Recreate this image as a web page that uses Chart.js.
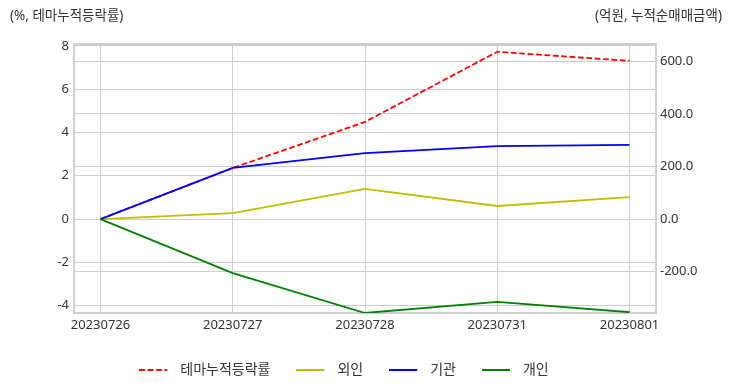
<!DOCTYPE html>
<html>
<head>
<meta charset="utf-8">
<script src="https://cdn.jsdelivr.net/npm/chart.js@4.4.0/dist/chart.umd.min.js"></script>
<style>
  html, body { margin: 0; padding: 0; background: #fff; }
  #wrap { width: 732px; height: 392px; }
</style>
</head>
<body>
<div id="wrap"><canvas id="myChart" width="732" height="392"></canvas></div>
<script>
var dates = ["20230726", "20230727", "20230728", "20230731", "20230801"];
var themeRate = [0, 2.36, 4.49, 7.73, 7.31];     // 테마누적등락률 (%)
var foreign = [0, 23, 115, 50, 84];             // 외인 (억원)
var institution = [0, 195, 251, 278, 282];      // 기관 (억원)
var individual = [0, -205, -357, -315, -354];   // 개인 (억원)
var leftTicks = [-4, -2, 0, 2, 4, 6, 8];
var rightTicks = [-200, 0, 200, 400, 600];

var textColor = "#333333";
var gridColor = "#cccccc";

// small legend line icon: 28px line then a gap
function lineIcon(color, dash) {
  var c = document.createElement("canvas");
  c.width = 34;
  c.height = 4;
  var g = c.getContext("2d");
  g.strokeStyle = color;
  g.lineWidth = 2;
  g.setLineDash(dash);
  g.beginPath();
  g.moveTo(0, 2);
  g.lineTo(28, 2);
  g.stroke();
  return c;
}

function toPoints(arr) {
  return arr.map(function (v, i) { return { x: i, y: v }; });
}

var seriesDefs = [
  { label: "테마누적등락률", data: themeRate, color: "#ff0000", dash: [5.8, 2.6], axis: "y", order: 4 },
  { label: "외인", data: foreign, color: "#bfbf00", dash: [], axis: "y1", order: 3 },
  { label: "기관", data: institution, color: "#0000ff", dash: [], axis: "y1", order: 2 },
  { label: "개인", data: individual, color: "#008000", dash: [], axis: "y1", order: 1 }
];

var frame = {
  id: "frame",
  afterLayout: function (chart) {
    // legend in the reference is centred a bit left of the page centre
    chart.legend.right -= 44;
  },
  beforeDatasetsDraw: function (chart) {
    var a = chart.chartArea, ctx = chart.ctx;
    ctx.save();
    ctx.strokeStyle = "#d0d0d0";
    ctx.lineWidth = 2;
    ctx.strokeRect(a.left, a.top, a.right - a.left, a.bottom - a.top);
    ctx.restore();
  },
  afterDraw: function (chart) {
    var ctx = chart.ctx;
    ctx.save();
    ctx.fillStyle = textColor;
    ctx.font = "13.5px 'Noto Sans', 'Noto Sans CJK KR', sans-serif";
    ctx.textBaseline = "middle";
    ctx.textAlign = "left";
    ctx.fillText("(%, 테마누적등락률)", 10, 16);
    ctx.textAlign = "right";
    ctx.fillText("(억원, 누적순매매금액)", 722, 16);
    ctx.restore();
  }
};

Chart.defaults.font.family = "'Noto Sans', 'Noto Sans CJK KR', sans-serif";
Chart.defaults.font.size = 13;
Chart.defaults.color = textColor;

new Chart("myChart", {
  type: "line",
  data: {
    datasets: seriesDefs.map(function (s) {
      return {
        label: s.label,
        data: toPoints(s.data),
        borderColor: s.color,
        backgroundColor: s.color,
        borderWidth: 1.8,
        borderDash: s.dash,
        pointRadius: 0,
        pointHoverRadius: 0,
        tension: 0,
        yAxisID: s.axis,
        order: s.order
      };
    })
  },
  options: {
    responsive: false,
    animation: false,
    layout: { padding: { top: 44, left: 0, right: 0, bottom: 5 } },
    scales: {
      x: {
        type: "linear",
        min: -0.2,
        max: 4.2,
        afterBuildTicks: function (scale) {
          scale.ticks = dates.map(function (d, i) { return { value: i }; });
        },
        afterFit: function (scale) { scale.height = 24; },
        ticks: {
          autoSkip: false,
          maxRotation: 0,
          padding: 4,
          callback: function (v) { return dates[v]; }
        },
        grid: { color: gridColor, drawTicks: false },
        border: { display: false }
      },
      y: {
        position: "left",
        min: -4.34,
        max: 8.09,
        afterBuildTicks: function (scale) {
          scale.ticks = leftTicks.map(function (v) { return { value: v }; });
        },
        afterFit: function (scale) { scale.width = 74; },
        ticks: { padding: 5, callback: function (v) { return String(v); } },
        grid: { color: gridColor, drawTicks: false },
        border: { display: false }
      },
      y1: {
        position: "right",
        min: -357,
        max: 666,
        afterBuildTicks: function (scale) {
          scale.ticks = rightTicks.map(function (v) { return { value: v }; });
        },
        afterFit: function (scale) { scale.width = 76; },
        ticks: { padding: 4, callback: function (v) { return v.toFixed(1); } },
        grid: { color: gridColor, drawTicks: false },
        border: { display: false }
      }
    },
    plugins: {
      legend: {
        position: "bottom",
        labels: {
          usePointStyle: true,
          pointStyleWidth: 34,
          padding: 26,
          color: textColor,
          font: { size: 14 },
          generateLabels: function (chart) {
            var items = Chart.defaults.plugins.legend.labels.generateLabels(chart);
            items.sort(function (a, b) { return a.datasetIndex - b.datasetIndex; });
            items.forEach(function (it) {
              var s = seriesDefs[it.datasetIndex];
              it.pointStyle = lineIcon(s.color, s.dash);
            });
            return items;
          }
        }
      },
      tooltip: { enabled: false }
    }
  },
  plugins: [frame]
});
</script>
</body>
</html>
